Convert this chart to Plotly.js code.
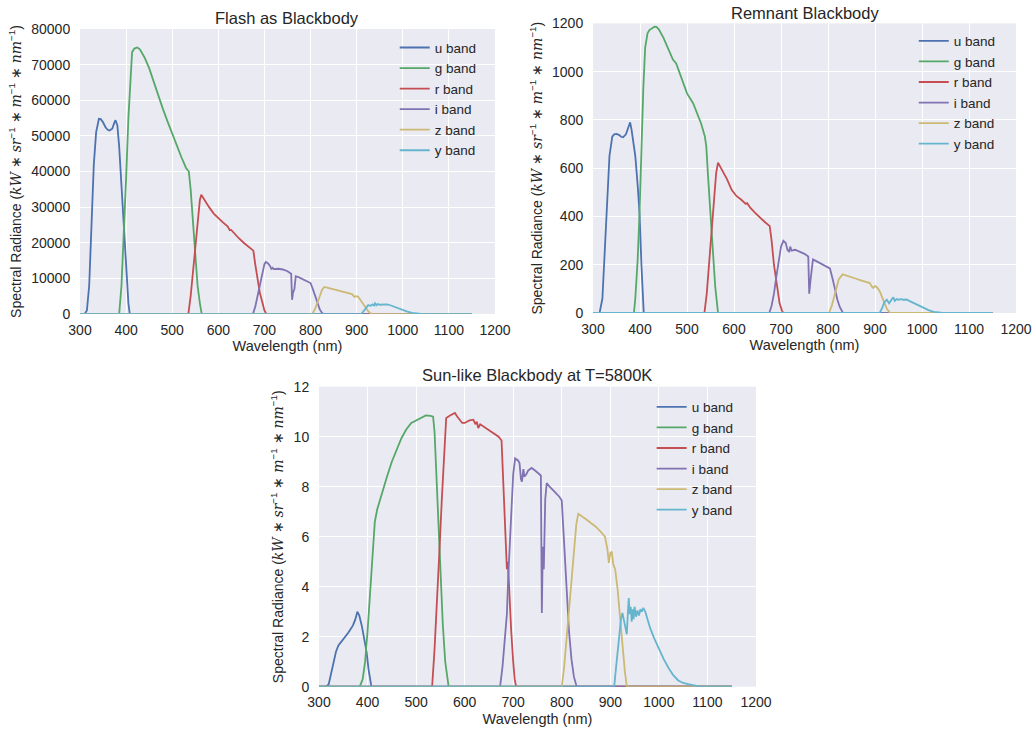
<!DOCTYPE html>
<html>
<head>
<meta charset="utf-8">
<script src="https://cdn.plot.ly/plotly-3.0.1.min.js"></script>
<style>html,body{margin:0;padding:0;background:#fff;}#chart{width:1036px;height:732px;}</style>
</head>
<body>
<div id="chart"></div>
<script>
// ---------- Data: Flash as Blackbody ----------
const flash_u_nm  = [300,310,315,320,325,330,335,341,345,350,355,360,364,370,374,377,381,385,390,395,400,405,408,1150];
const flash_u_val = [0,0,1000,8000,25000,42000,51000,54800,54700,53800,52500,51700,51500,52000,53500,54400,53000,47000,36000,25000,13000,3000,0,0];
const flash_g_nm  = [300,385,390,395,400,405,410,413,418,424,430,440,450,460,470,480,490,500,510,520,530,536,540,545,550,555,560,564,1150];
const flash_g_val = [0,0,8000,21000,38000,55000,68000,73500,74500,74800,74300,72000,69000,65000,61000,57500,54000,50500,47000,44000,41000,40000,35000,25000,16000,8000,3000,0,0];
const flash_r_nm  = [300,535,540,545,550,555,560,563,570,580,590,600,610,620,625,628,635,645,655,665,676,680,685,687,690,695,700,704,1150];
const flash_r_val = [0,0,5000,12000,20000,27000,32000,33500,32000,30000,28200,26800,25700,24600,23500,23600,22500,21200,20000,19000,17800,14000,9500,8000,6000,3500,1000,0,0];
const flash_i_nm  = [300,675,680,685,690,695,700,703,708,712,715,718,720,730,740,750,758,760,762,765,768,775,790,800,805,810,815,820,825,829,1150];
const flash_i_val = [0,0,2000,5000,8500,11500,14000,14600,14200,13500,12700,13000,12600,12700,12500,12000,11300,4000,6000,7000,10600,10300,9300,8700,7000,5000,3000,1300,300,0,0];
const flash_z_nm  = [300,804,810,815,820,825,830,840,850,860,870,880,890,895,898,903,910,915,920,925,930,934,1150];
const flash_z_val = [0,0,1500,3000,5000,6800,7600,7300,7000,6700,6300,6000,5600,4800,5000,4900,3500,2500,1500,800,200,0,0];
const flash_y_nm  = [300,910,915,920,925,930,935,938,940,943,946,950,955,960,965,970,980,990,1000,1010,1020,1030,1040,1050,1150];
const flash_y_val = [0,0,800,1800,2500,2300,2700,2400,3000,2500,2800,2600,2700,2600,2700,2600,2100,1600,1100,700,350,150,30,0,0];

// ---------- Data: Remnant Blackbody ----------
const rem_u_nm  = [300,314,320,325,330,335,341,345,350,355,360,364,370,375,379,382,385,390,395,399,403,408,1150];
const rem_u_val = [0,0,60,250,480,650,731,740,742,738,730,728,740,765,790,760,720,650,530,414,200,0,0];
const rem_g_nm  = [300,387,390,395,399,403,407,411,416,420,425,431,435,440,450,460,470,477,490,500,513,520,530,538,541,545,550,555,560,566,1150];
const rem_g_val = [0,0,60,220,414,700,930,1100,1159,1172,1180,1186,1185,1175,1140,1095,1050,1034,960,910,869,835,785,731,690,560,400,250,110,0,0];
const rem_r_nm  = [300,537,542,547,552,557,562,566,575,585,595,605,615,625,628,635,645,655,665,676,680,685,688,692,697,702,705,1150];
const rem_r_val = [0,0,80,200,340,470,580,623,590,555,510,485,470,452,455,435,415,395,378,360,300,200,160,90,40,10,0,0];
const rem_i_nm  = [300,675,680,685,690,695,700,705,710,714,717,720,722,730,740,750,758,760,763,768,775,785,795,804,810,815,820,825,832,1150];
const rem_i_val = [0,0,30,80,150,220,275,299,290,260,255,275,258,262,255,245,234,80,140,222,215,205,195,185,140,95,55,25,0,0];
const rem_z_nm  = [300,802,808,813,818,823,831,840,850,860,870,880,889,893,896,900,905,910,915,920,925,932,1150];
const rem_z_val = [0,0,30,70,110,140,160,155,148,142,135,130,124,110,104,112,105,90,65,40,18,0,0];
const rem_y_nm  = [300,910,915,920,925,930,935,939,942,946,950,955,960,967,975,985,995,1005,1015,1025,1035,1045,1150];
const rem_y_val = [0,0,20,45,55,40,55,65,50,58,55,57,55,56,48,38,28,19,11,5,1,0,0];

// ---------- Data: Sun-like Blackbody at T=5800K ----------
const sun_u_nm  = [300,315,320,325,330,335,340,350,360,370,375,379,383,388,393,398,402,406,408,1150];
const sun_u_val = [0,0,0.1,0.5,1.0,1.4,1.65,1.9,2.15,2.45,2.7,3.0,2.85,2.45,1.95,1.4,0.7,0.15,0,0];
const sun_g_nm  = [300,384,390,395,400,405,410,415,420,430,440,450,460,470,480,490,500,505,510,515,520,530,535,538,542,546,550,555,560,565,567,1150];
const sun_g_val = [0,0,0.3,1.0,2.2,3.7,5.3,6.6,7.1,7.8,8.4,9.0,9.5,9.95,10.3,10.55,10.65,10.7,10.75,10.82,10.85,10.83,10.8,10.2,8.5,6.5,4.5,2.5,1.0,0.1,0,0];
const sun_r_nm  = [300,533,538,543,548,553,558,562,570,575,580,585,590,595,600,605,610,618,622,625,628,632,640,650,660,670,676,680,684,687,689,692,696,700,703,706,1150];
const sun_r_val = [0,0,1.5,3.8,5.4,7.5,9.6,10.75,10.85,10.9,10.95,10.8,10.65,10.55,10.55,10.6,10.65,10.68,10.5,10.6,10.35,10.5,10.4,10.25,10.15,10.0,9.85,8.0,6.0,4.7,5.0,3.5,2.2,1.0,0.3,0,0];
const sun_i_nm  = [300,673,678,683,687,690,695,700,704,710,713,716,718,721,723,727,731,738,745,750,757,759,761,763,766,769,775,785,795,800,805,810,815,820,825,830,832,1150];
const sun_i_val = [0,0,0.8,2.0,2.9,4.5,6.8,8.5,9.13,9.05,8.95,8.3,8.2,8.7,8.4,8.5,8.65,8.75,8.65,8.55,8.45,2.95,5.6,4.7,7.5,8.15,8.0,7.8,7.6,7.45,5.5,3.8,2.2,1.1,0.4,0.05,0,0];
const sun_z_nm  = [300,800,805,810,815,821,825,830,834,840,850,860,870,880,889,894,897,900,903,906,910,915,920,925,930,934,1150];
const sun_z_val = [0,0,0.8,1.9,3.2,4.5,5.5,6.5,6.92,6.85,6.7,6.55,6.4,6.2,6.0,5.5,4.95,5.35,5.4,4.9,4.7,3.9,2.8,1.6,0.6,0,0];
const sun_y_nm  = [300,908,912,917,922,925,928,931,934,936,938,940,942,944,946,948,950,953,956,959,962,965,968,972,976,982,990,1000,1010,1020,1030,1040,1050,1060,1070,1080,1085,1150];
const sun_y_val = [0,0,0.8,1.8,2.7,2.95,2.7,2.35,2.1,2.9,3.55,2.9,3.2,2.6,3.1,2.7,3.2,2.8,3.05,2.85,3.1,3.0,3.15,3.0,2.7,2.35,1.95,1.5,1.1,0.75,0.45,0.25,0.15,0.1,0.06,0.02,0,0];

const bandNames  = ['u band','g band','r band','i band','z band','y band'];
const bandColors = ['#4C72B0','#55A868','#C44E52','#8172B2','#CCB974','#64B5CD'];

const panels = [
  {xs:[flash_u_nm,flash_g_nm,flash_r_nm,flash_i_nm,flash_z_nm,flash_y_nm],
   ys:[flash_u_val,flash_g_val,flash_r_val,flash_i_val,flash_z_val,flash_y_val], xa:'x', ya:'y', lg:'legend'},
  {xs:[rem_u_nm,rem_g_nm,rem_r_nm,rem_i_nm,rem_z_nm,rem_y_nm],
   ys:[rem_u_val,rem_g_val,rem_r_val,rem_i_val,rem_z_val,rem_y_val], xa:'x2', ya:'y2', lg:'legend2'},
  {xs:[sun_u_nm,sun_g_nm,sun_r_nm,sun_i_nm,sun_z_nm,sun_y_nm],
   ys:[sun_u_val,sun_g_val,sun_r_val,sun_i_val,sun_z_val,sun_y_val], xa:'x3', ya:'y3', lg:'legend3'}
];

const traces = [];
panels.forEach(p => {
  for (let k = 0; k < 6; k++) {
    traces.push({
      type:'scatter', mode:'lines', x:p.xs[k], y:p.ys[k], name:bandNames[k],
      xaxis:p.xa, yaxis:p.ya, legend:p.lg,
      line:{color:bandColors[k], width:1.8}, hoverinfo:'skip'
    });
  }
});

const txt = '#262626';
const ytitle = 'Spectral Radiance (<span style="font-family:DejaVu Serif;font-style:italic">kW</span> ∗ <span style="font-family:DejaVu Serif;font-style:italic">sr</span><sup>−1</sup> ∗ <span style="font-family:DejaVu Serif;font-style:italic">m</span><sup>−1</sup> ∗ <span style="font-family:DejaVu Serif;font-style:italic">nm</span><sup>−1</sup>)';

function xax(dom, anchor) {
  return {domain:dom, anchor:anchor, range:[300,1200], dtick:100, tick0:300,
    showgrid:true, gridcolor:'#ffffff', gridwidth:1, zeroline:false, showline:false,
    ticks:'outside', ticklen:3, tickcolor:'rgba(0,0,0,0)',
    tickfont:{size:14, color:txt, family:'Liberation Sans, Arial'},
    title:{text:'Wavelength (nm)', font:{size:14.5, color:txt, family:'Liberation Sans, Arial'}, standoff:4}};
}
function yax(dom, anchor, rng, dt) {
  return {domain:dom, anchor:anchor, range:rng, dtick:dt, tick0:0, tickformat:'d',
    showgrid:true, gridcolor:'#ffffff', gridwidth:1, zeroline:false, showline:false,
    ticks:'outside', ticklen:6, tickcolor:'rgba(0,0,0,0)',
    tickfont:{size:14, color:txt, family:'Liberation Sans, Arial'},
    title:{text:ytitle, font:{size:14, color:txt, family:'Liberation Sans, Arial'}, standoff:6}};
}
function leg(x, y) {
  return {x:x, y:y, xanchor:'left', yanchor:'top', bgcolor:'rgba(0,0,0,0)', borderwidth:0,
    font:{size:13.5, color:txt, family:'Liberation Sans, Arial'}, tracegroupgap:0};
}

const layout = {
  width:1036, height:732, margin:{l:0, r:0, t:0, b:0},
  paper_bgcolor:'#ffffff', plot_bgcolor:'#EAEAF2',
  font:{family:'Liberation Sans, Arial', color:txt},
  xaxis:  xax([0.0772, 0.4778], 'y'),
  yaxis:  yax([0.5710, 0.9604], 'x', [0,80000], 10000),
  xaxis2: xax([0.5724, 0.9807], 'y2'),
  yaxis2: yax([0.5724, 0.9681], 'x2', [0,1200], 200),
  xaxis3: xax([0.3079, 0.7297], 'y3'),
  yaxis3: yax([0.0619, 0.4717], 'x3', [0,12], 2),
  legend:  leg(0.381, 0.956),
  legend2: leg(0.882, 0.965),
  legend3: leg(0.629, 0.465),
  showlegend:true,
  annotations:[
    {text:'Flash as Blackbody', x:0.277, y:1-18/732, xref:'paper', yref:'paper', showarrow:false, xanchor:'center', yanchor:'middle', font:{size:16.5, color:txt}},
    {text:'Remnant Blackbody', x:0.7766, y:1-13/732, xref:'paper', yref:'paper', showarrow:false, xanchor:'center', yanchor:'middle', font:{size:16.5, color:txt}},
    {text:'Sun-like Blackbody at T=5800K', x:0.5188, y:1-375/732, xref:'paper', yref:'paper', showarrow:false, xanchor:'center', yanchor:'middle', font:{size:16.5, color:txt}}
  ]
};

Plotly.newPlot('chart', traces, layout, {staticPlot:true, displayModeBar:false});
</script>
</body>
</html>
